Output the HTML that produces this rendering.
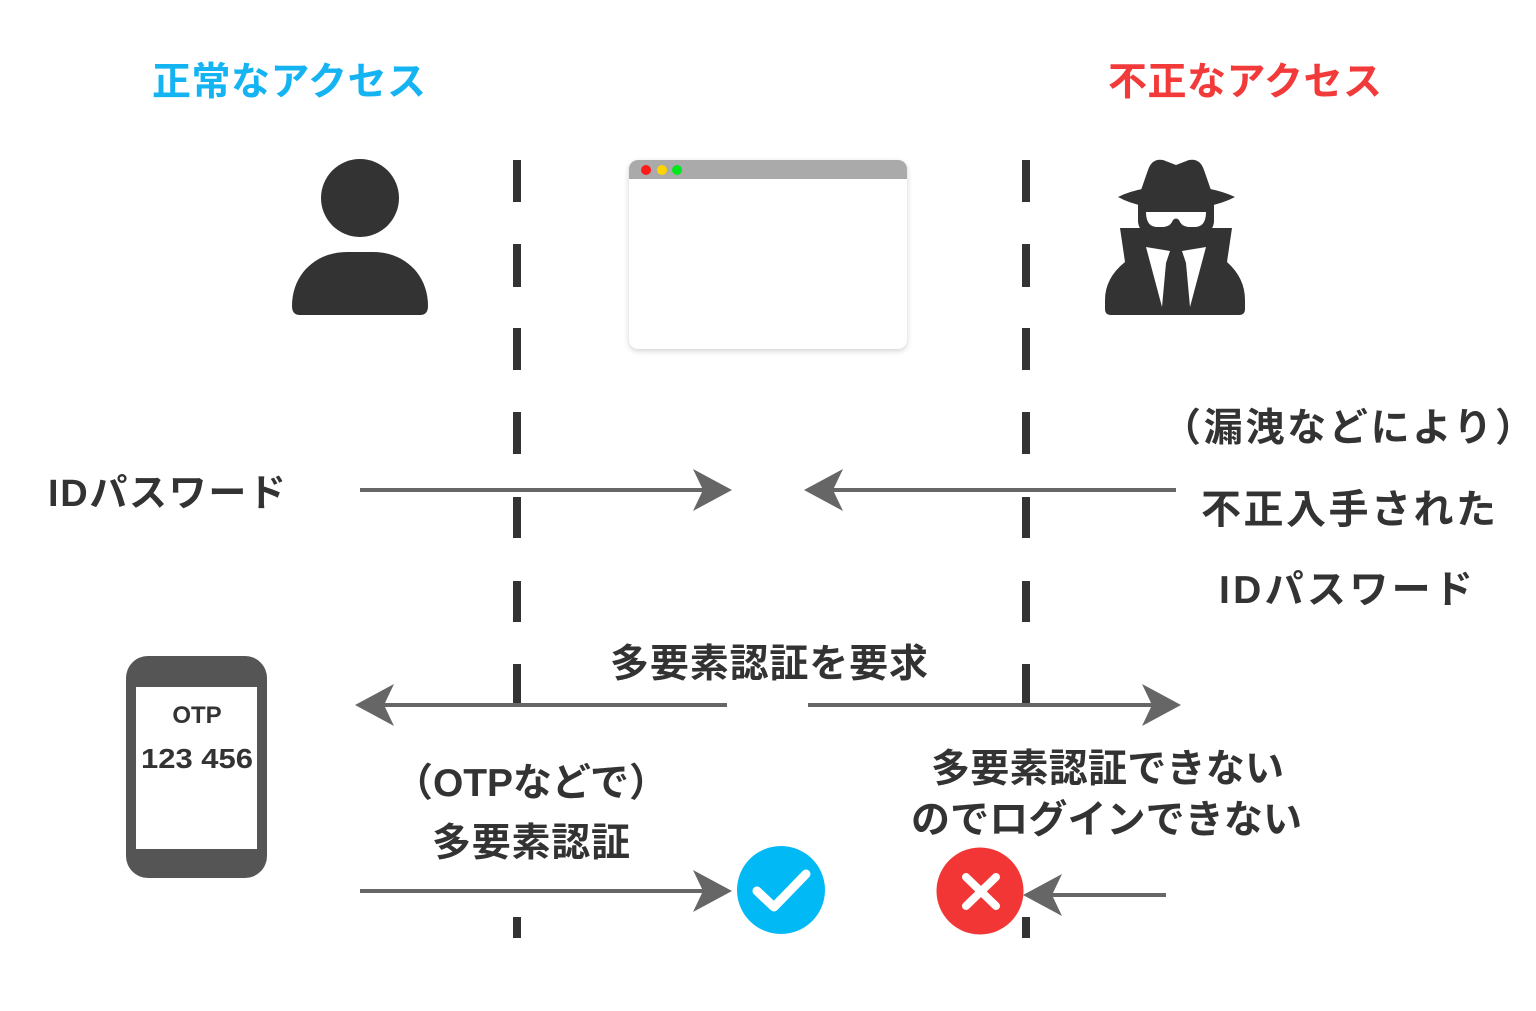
<!DOCTYPE html>
<html>
<head>
<meta charset="utf-8">
<style>
html,body{margin:0;padding:0;background:#fff;}
body{width:1536px;height:1011px;position:relative;overflow:hidden;}
svg{position:absolute;left:0;top:0;}
text{font-family:"Liberation Sans","Noto Sans CJK JP",sans-serif;font-weight:700;}
.browser{position:absolute;left:629px;top:160px;width:278px;height:189px;background:#fff;border-radius:9px;box-shadow:0 2px 6px rgba(0,0,0,0.18);overflow:hidden;}
.bar{position:absolute;left:0;top:0;width:100%;height:19px;background:#aaaaaa;}
.dot{position:absolute;top:5px;width:10px;height:10px;border-radius:50%;}
</style>
</head>
<body>
<div class="browser">
  <div class="bar"></div>
  <div class="dot" style="left:12px;background:#ff1a1a;"></div>
  <div class="dot" style="left:28px;background:#ffd400;"></div>
  <div class="dot" style="left:43px;background:#00e81c;"></div>
</div>
<svg width="1536" height="1011" viewBox="0 0 1536 1011" xmlns="http://www.w3.org/2000/svg">
  <!-- dashed lines -->
  <g fill="#333">
    <rect x="513" y="160" width="8" height="42"/>
    <rect x="513" y="244" width="8" height="43"/>
    <rect x="513" y="328" width="8" height="42"/>
    <rect x="513" y="412" width="8" height="42"/>
    <rect x="513" y="497" width="8" height="41"/>
    <rect x="513" y="581" width="8" height="41"/>
    <rect x="513" y="664" width="8" height="42"/>
    <rect x="513" y="917" width="8" height="21"/>
    <rect x="1022" y="160" width="8" height="42"/>
    <rect x="1022" y="244" width="8" height="43"/>
    <rect x="1022" y="328" width="8" height="42"/>
    <rect x="1022" y="412" width="8" height="42"/>
    <rect x="1022" y="497" width="8" height="41"/>
    <rect x="1022" y="581" width="8" height="41"/>
    <rect x="1022" y="664" width="8" height="42"/>
    <rect x="1022" y="917" width="8" height="21"/>
  </g>

  <!-- user icon -->
  <g fill="#333">
    <circle cx="360" cy="198" r="39"/>
    <path d="M292,306 C292,274 316,252 347,252 L373,252 C404,252 428,274 428,306 Q428,315 420,315 L300,315 Q292,315 292,306 Z"/>
  </g>

  <!-- hacker icon -->
  <g fill="#333">
    <path d="M1140,193 L1148,170 Q1152,158 1163,160 L1176,165 L1189,160 Q1200,158 1204,170 L1212,193 Z"/>
    <path d="M1118,197 Q1140,186 1176,186 Q1212,186 1235,197 Q1212,209 1176,209 Q1140,209 1118,197 Z"/>
    <path d="M1138,203 L1214,203 L1214,222 Q1212,240 1176,241 Q1140,240 1138,222 Z"/>
    <path d="M1120,228 L1232,228 L1227,262 Q1245,278 1245,300 L1245,309 Q1245,315 1239,315 L1111,315 Q1105,315 1105,309 L1105,300 Q1105,278 1125,262 Z"/>
  </g>
  <g fill="#fff">
    <path d="M1146,212 L1206,212 Q1206,226 1196,227 L1188,227 Q1181,226 1179,220 Q1176,217 1173,220 Q1171,226 1164,227 L1156,227 Q1146,226 1146,212 Z"/>
    <polygon points="1146,247 1170,251 1166,263 1162,307"/>
    <polygon points="1206,247 1182,251 1186,263 1190,307"/>
  </g>

  <!-- phone -->
  <rect x="126" y="656" width="141" height="222" rx="22" fill="#555"/>
  <rect x="136" y="687" width="121" height="162" fill="#fff"/>
  <text x="197" y="723" font-size="24" fill="#333" text-anchor="middle">OTP</text>
  <text x="141" y="768" font-size="28" fill="#333" textLength="112" lengthAdjust="spacingAndGlyphs">123 456</text>

  <!-- arrows -->
  <g stroke="#666" stroke-width="4" fill="none">
    <line x1="360" y1="490" x2="706" y2="490"/>
    <line x1="1176" y1="490" x2="830" y2="490"/>
    <line x1="727" y1="705" x2="380" y2="705"/>
    <line x1="808" y1="705" x2="1156" y2="705"/>
    <line x1="360" y1="891" x2="706" y2="891"/>
    <line x1="1166" y1="895" x2="1050" y2="895"/>
  </g>
  <g fill="#666">
    <polygon points="732,490 693,469 703,490 693,511"/>
    <polygon points="804,490 843,469 833,490 843,511"/>
    <polygon points="355,705 394,684 384,705 394,726"/>
    <polygon points="1181,705 1142,684 1152,705 1142,726"/>
    <polygon points="732,891 693,870 703,891 693,912"/>
    <polygon points="1023,895 1062,874 1052,895 1062,916"/>
  </g>

  <!-- check circle -->
  <circle cx="781" cy="890" r="44" fill="#00b9f5"/>
  <polyline points="757,891 774,907 806,874" fill="none" stroke="#fff" stroke-width="9" stroke-linecap="round" stroke-linejoin="round"/>

  <!-- cross circle -->
  <circle cx="980" cy="891" r="43.5" fill="#f23636"/>
  <g stroke="#fff" stroke-width="8" stroke-linecap="round">
    <line x1="966" y1="877" x2="996" y2="906"/>
    <line x1="996" y1="877" x2="966" y2="906"/>
  </g>

  <!-- texts -->
  <text x="152" y="95" font-size="39" fill="#14b4f2" textLength="274" lengthAdjust="spacing">正常なアクセス</text>
  <text x="1108" y="95" font-size="39" fill="#f23a3a" textLength="274" lengthAdjust="spacing">不正なアクセス</text>

  <text x="48" y="506" font-size="38" fill="#333" textLength="238" lengthAdjust="spacing">IDパスワード</text>

  <text x="1162" y="441" font-size="39" fill="#333" textLength="372" lengthAdjust="spacing">（漏洩などにより）</text>
  <text x="1201" y="523" font-size="40" fill="#333" textLength="295" lengthAdjust="spacing">不正入手された</text>
  <text x="1219" y="603" font-size="39" fill="#333" textLength="254" lengthAdjust="spacing">IDパスワード</text>

  <text x="610" y="677" font-size="39" fill="#333" textLength="318" lengthAdjust="spacing">多要素認証を要求</text>

  <text x="394" y="796" font-size="39" fill="#333" textLength="274" lengthAdjust="spacing">（OTPなどで）</text>
  <text x="432" y="856" font-size="39" fill="#333" textLength="198" lengthAdjust="spacing">多要素認証</text>

  <text x="931" y="782" font-size="39" fill="#333" textLength="353" lengthAdjust="spacing">多要素認証できない</text>
  <text x="911" y="833" font-size="39" fill="#333" textLength="391" lengthAdjust="spacing">のでログインできない</text>
</svg>
</body>
</html>
